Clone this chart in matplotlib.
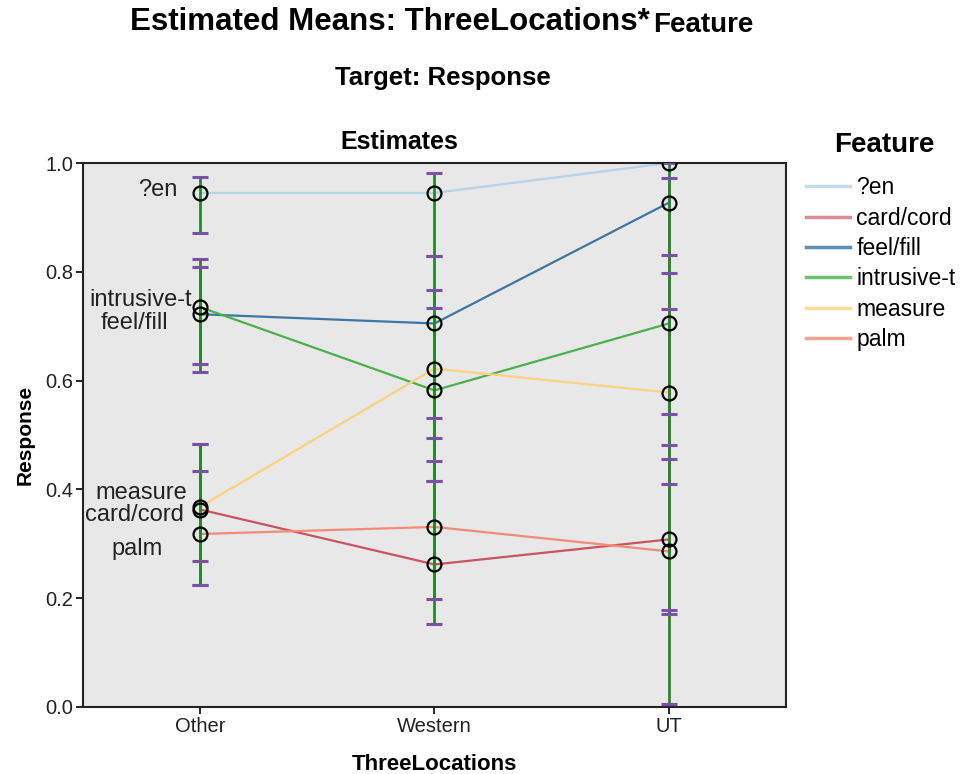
import numpy as np
import matplotlib.pyplot as plt
from matplotlib.lines import Line2D

plt.rcParams["font.family"] = ["Liberation Sans", "DejaVu Sans"]

# ---------------------------------------------------------------
# Dados
# ---------------------------------------------------------------
locations = ["Other", "Western", "UT"]
features = ["?en", "card/cord", "feel/fill", "intrusive-t", "measure", "palm"]

mean_en = [0.945, 0.945, 1.000]
mean_card = [0.363, 0.262, 0.308]
mean_feel = [0.722, 0.705, 0.927]
mean_intr = [0.735, 0.582, 0.705]
mean_meas = [0.368, 0.622, 0.578]
mean_palm = [0.318, 0.331, 0.286]

low_en = [0.872, 0.829, 0.005]
high_en = [0.974, 0.982, 1.000]
low_card = [0.224, 0.152, 0.171]
high_card = [0.483, 0.415, 0.538]
low_feel = [0.631, 0.532, 0.798]
high_feel = [0.809, 0.829, 0.972]
low_intr = [0.615, 0.415, 0.481]
high_intr = [0.824, 0.734, 0.831]
low_meas = [0.268, 0.453, 0.409]
high_meas = [0.483, 0.767, 0.732]
low_palm = [0.224, 0.198, 0.178]
high_palm = [0.433, 0.494, 0.455]

means = [mean_en, mean_card, mean_feel, mean_intr, mean_meas, mean_palm]
lows = [low_en, low_card, low_feel, low_intr, low_meas, low_palm]
highs = [high_en, high_card, high_feel, high_intr, high_meas, high_palm]

cores = ["#b3d3e8", "#c9545e", "#3b76a6", "#4cb04c", "#fdd27c", "#f28c74"]
cores_leg = ["#c6dcea", "#dc8e96", "#5d8db5", "#6cc46c", "#fedc9a", "#f4a28e"]

# deslocamento (pontos) dos rotulos a esquerda de "Other"
rot_dx = [-16, -12, -23, -6, -9, -27]
rot_dy = [2, -4, -6, 5, 10, -11]

# ---------------------------------------------------------------
# Figura
# ---------------------------------------------------------------
fig = plt.figure(figsize=(9.67, 7.74), dpi=100)
ax = fig.add_axes([0.0858, 0.0866, 0.727, 0.7028])
ax.set_facecolor("#e8e8e8")

x = np.arange(len(locations))

for m, lo, hi, cor in zip(means, lows, highs, cores):
    m = np.array(m)
    ax.plot(x, m, color=cor, lw=1.6, zorder=2)
    eb = ax.errorbar(x, m, yerr=[m - np.array(lo), np.array(hi) - m], fmt="none",
                     ecolor="#2a862a", elinewidth=2.0, capsize=5.5, capthick=2.2, zorder=3)
    for cap in eb[1]:
        cap.set_markeredgecolor("#7d4fa8")
        cap.set_markerfacecolor("#7d4fa8")
        cap.set_zorder(3.5)

for m in means:
    ax.plot(x, m, "o", ms=10, mfc="none", mec="black", mew=1.6, zorder=4)

for nome, m, dx, dy in zip(features, means, rot_dx, rot_dy):
    ax.annotate(nome, (x[0], m[0]), xytext=(dx, dy), textcoords="offset points",
                ha="right", va="center", fontsize=17, color="#222222")

ax.set_xlim(-0.5, 2.5)
ax.set_ylim(0, 1.0)
ax.set_xticks(x)
ax.set_xticklabels(locations, fontsize=14.5, color="#222222")
ax.set_yticks(np.arange(0, 1.01, 0.2))
ax.set_yticklabels([f"{v:.1f}" for v in np.arange(0, 1.01, 0.2)], fontsize=14.5, color="#222222")
ax.tick_params(direction="out", length=5, width=1.2, pad=2)
for s in ax.spines.values():
    s.set_linewidth(1.5)
    s.set_color("#222222")

ax.set_xlabel("ThreeLocations", fontsize=16, fontweight="bold", labelpad=13)
ax.set_ylabel("Response", fontsize=15, fontweight="bold", labelpad=8)
ax.set_title("Estimates", fontsize=18, fontweight="bold", x=0.45, pad=10)

# titulos
fig.text(0.672, 0.971, "Estimated Means: ThreeLocations*", ha="right", va="center",
         fontsize=22.5, fontweight="bold")
fig.text(0.675, 0.968, "Feature", ha="left", va="center", fontsize=20, fontweight="bold")
fig.text(0.458, 0.899, "Target: Response", ha="center", va="center", fontsize=18.5, fontweight="bold")

# legenda (titulo separado para controlar o espacamento)
fig.text(0.915, 0.8127, "Feature", ha="center", va="center", fontsize=20, fontweight="bold")
handles = [Line2D([], [], color=c, lw=2.5) for c in cores_leg]
leg = fig.legend(handles, features, loc="upper left", bbox_to_anchor=(0.8335, 0.772),
                 frameon=False, fontsize=16.5, handlelength=1.9,
                 handletextpad=0.3, labelspacing=0.32, borderaxespad=0, borderpad=0)

fig.savefig("out.png", dpi=100)
